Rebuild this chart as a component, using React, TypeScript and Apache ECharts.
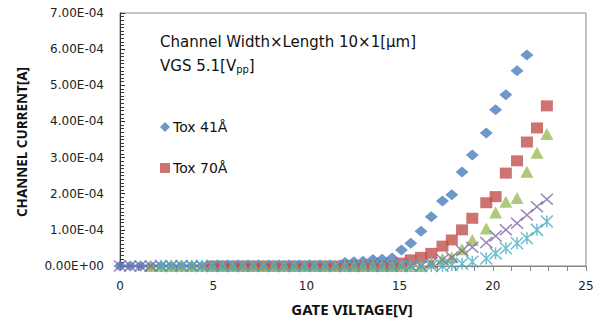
import React, { useEffect, useRef } from "react";
import * as echarts from "echarts";

// Gate voltage [V]
const gateV = [0, 0.55, 1.1, 1.65, 2.2, 2.75, 3.3, 3.85, 4.4, 4.95, 5.5, 6.05, 6.6, 7.15, 7.7, 8.25, 8.8, 9.35, 9.9, 10.45, 11.0, 11.55, 12.07, 12.55, 13.04, 13.57, 14.06, 14.6, 15.1, 15.6, 16.15, 16.7, 17.3, 17.8, 18.35, 18.9, 19.65, 20.15, 20.7, 21.3, 21.83, 22.37, 22.9];

// Channel current in units of 1e-4 A (null = no point)
const tox41 = [0, 0, 0, 0, 0, 0, 0, 0, 0, 0, 0, 0, 0, 0, 0, 0, 0, 0, 0, 0, 0, 0, 0.1, 0.12, 0.13, 0.18, 0.19, 0.22, 0.44, 0.63, 0.96, 1.36, 1.8, 1.97, 2.6, 3.07, 3.68, 4.32, 4.74, 5.4, 5.84, null, null];
const tox70 = [null, null, null, null, null, null, null, null, null, 0, 0, 0, 0, 0, 0, 0, 0, 0, 0, 0, 0, 0, 0, 0, 0, 0, 0, 0, 0.08, 0.17, 0.24, 0.35, 0.55, 0.72, 1.0, 1.32, 1.75, 1.92, 2.57, 2.91, 3.43, 3.82, 4.43];
const seriesC = [null, null, null, 0, 0, 0, 0, 0, 0, 0, 0, 0, 0, 0, 0, 0, 0, 0, 0, 0, 0, 0, 0, 0, 0, 0, 0, 0, 0, 0, 0, 0.1, 0.2, 0.24, 0.46, 0.72, 1.04, 1.48, 1.78, 1.88, 2.61, 3.13, 3.65];
const seriesD = [0, 0, 0, 0, 0, 0, 0, 0, 0, 0, 0, 0, 0, 0, 0, 0, 0, 0, 0, 0, 0, 0, 0, 0, 0, 0, 0, 0, 0, 0, 0, 0.08, 0.17, 0.24, 0.42, 0.52, 0.65, 0.83, 1.0, 1.18, 1.41, 1.64, 1.85];
const seriesE = [null, null, null, null, 0, 0, 0, 0, 0, 0, 0, 0, 0, 0, 0, 0, 0, 0, 0, 0, 0, 0, 0, 0, 0, 0, 0, 0, 0, 0, 0, 0, 0, 0.03, 0.06, 0.12, 0.21, 0.35, 0.49, 0.63, 0.77, 1.0, 1.23];

const seriesNames = ["Tox 41Å", "Tox 70Å", "Tox C", "Tox D", "Tox E"];
const legendNames = ["Tox 41Å", "Tox 70Å"];
const xTitle = "GATE VILTAGE[V]";
const yTitle = "CHANNEL CURRENT[A]";
const note1 = "Channel Width×Length 10×1[μm]";
const note2 = "VGS 5.1[V{sub|pp}]";

const FONT = "'DejaVu Sans', sans-serif";
const BFONT = "'Noto Sans', sans-serif";

const toPairs = (arr: (number | null)[]) =>
  gateV.map((v, i) => [v, arr[i] === null ? null : (arr[i] as number) * 1e-4]).filter((p) => p[1] !== null);

const fmt = (v: number) => {
  if (Math.abs(v) < 1e-12) return "0.00E+00";
  const [m, e] = v.toExponential(2).split("e");
  const n = parseInt(e, 10);
  return m + "E" + (n < 0 ? "-" : "+") + String(Math.abs(n)).padStart(2, "0");
};

export default function App() {
  const ref = useRef<HTMLDivElement>(null);
  useEffect(() => {
    if (!ref.current) return;
    const chart = echarts.init(ref.current, undefined, { renderer: "svg" });
    const xMark = "path://M0,0L10,10M10,0L0,10";
    const starMark = "path://M0,0L10,10M10,0L0,10M5,0L5,10";
    chart.setOption({
      animation: false,
      backgroundColor: "#fff",
      textStyle: { fontFamily: FONT },
      grid: { left: 120, top: 13, right: 13, bottom: 54, show: true, borderColor: "#868686", borderWidth: 1, backgroundColor: "transparent" },
      legend: {
        data: [
          { name: legendNames[0], icon: "diamond" },
          { name: legendNames[1], icon: "rect" },
        ],
        orient: "vertical",
        left: 160,
        top: 120,
        padding: 0,
        itemWidth: 10,
        itemHeight: 10,
        itemGap: 27,
        textStyle: { fontFamily: FONT, fontSize: 14, color: "#111", lineHeight: 14, padding: [0, 0, 0, -2] },
      },
      xAxis: {
        type: "value",
        min: 0,
        max: 25,
        interval: 5,
        axisLine: { show: true, lineStyle: { color: "#868686", width: 1 } },
        axisTick: { show: true, inside: false, length: 5, lineStyle: { color: "#868686" } },
        minorTick: { show: true, splitNumber: 5, length: 5, lineStyle: { color: "#868686" } },
        splitLine: { show: false },
        axisLabel: { fontFamily: FONT, fontSize: 12, color: "#222", margin: 14 },
      },
      yAxis: {
        type: "value",
        min: 0,
        max: 7e-4,
        interval: 1e-4,
        axisLine: { show: true, lineStyle: { color: "#333", width: 1 } },
        axisTick: { show: true, inside: true, length: 5, lineStyle: { color: "#333" } },
        minorTick: { show: true, splitNumber: 10, length: 4, lineStyle: { color: "#333" } },
        splitLine: { show: false },
        axisLabel: { fontFamily: FONT, fontSize: 12, color: "#222", margin: 16, formatter: fmt },
      },
      graphic: [
        { type: "text", left: 160, top: 34, style: { text: note1, fontFamily: FONT, fontSize: 15, fill: "#111" } },
        {
          type: "text",
          left: 160,
          top: 58,
          style: {
            text: note2,
            fontFamily: FONT,
            fontSize: 15,
            fill: "#111",
            rich: { sub: { fontSize: 10, fontFamily: FONT, fill: "#111", padding: [8, 0, 0, 0] } },
          },
        },
        { type: "text", x: 352, y: 309, style: { text: xTitle, fontFamily: BFONT, fontSize: 15, fontWeight: "bold", fill: "#111", align: "center", verticalAlign: "middle" } },
        { type: "text", x: 22, y: 142, rotation: Math.PI / 2, style: { text: yTitle, fontFamily: BFONT, fontSize: 13.5, fontWeight: "bold", fill: "#111", align: "center", verticalAlign: "middle" } },
      ],
      series: [
        { name: seriesNames[0], type: "scatter", data: toPairs(tox41), symbol: "diamond", symbolSize: [13, 11], itemStyle: { color: "#4A7EBB" } },
        { name: seriesNames[1], type: "scatter", data: toPairs(tox70), symbol: "rect", symbolSize: [12, 11], itemStyle: { color: "#C0504D" } },
        { name: seriesNames[2], type: "scatter", data: toPairs(seriesC), symbol: "triangle", symbolSize: [13, 12], itemStyle: { color: "#9BBB59" } },
        { name: seriesNames[3], type: "scatter", data: toPairs(seriesD), symbol: xMark, symbolSize: [12, 11], itemStyle: { color: "#8064A2", borderColor: "#8064A2", borderWidth: 1.5 } },
        { name: seriesNames[4], type: "scatter", data: toPairs(seriesE), symbol: starMark, symbolSize: [12, 12], itemStyle: { color: "#4BACC6", borderColor: "#4BACC6", borderWidth: 1.5 } },
      ],
    });
    return () => chart.dispose();
  }, []);
  return <div ref={ref} style={{ position: "fixed", left: 0, top: 0, width: 599, height: 320 }} />;
}
